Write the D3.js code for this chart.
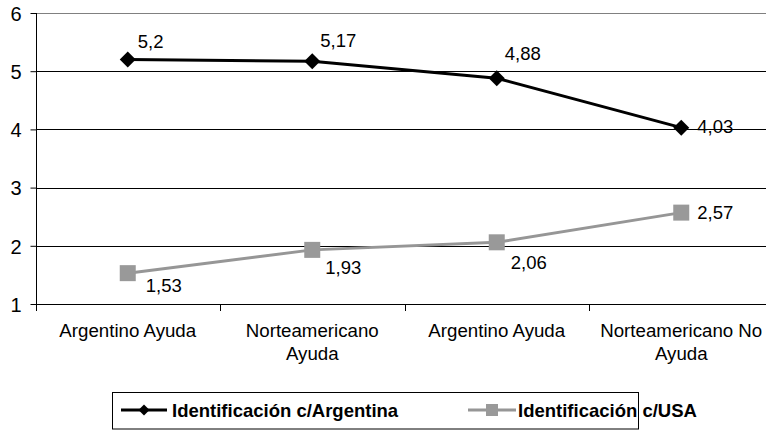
<!DOCTYPE html>
<html>
<head>
<meta charset="utf-8">
<script src="https://cdn.jsdelivr.net/npm/d3@7"></script>
<style>
  html, body { margin: 0; padding: 0; background: #fff; }
  svg { display: block; font-family: "Liberation Sans", Arial, sans-serif; }
</style>
</head>
<body>
<svg id="chart" width="766" height="430"></svg>
<script>
// Categories (x axis), two series and the y ticks
const categories = ["Argentino Ayuda", "Norteamericano Ayuda", "Argentino Ayuda ", "Norteamericano No Ayuda"];
const categoryLines = [["Argentino Ayuda"], ["Norteamericano", "Ayuda"], ["Argentino Ayuda"], ["Norteamericano No", "Ayuda"]];
const argentina = [5.2, 5.17, 4.88, 4.03];
const usa = [1.53, 1.93, 2.06, 2.57];
const yTicks = [1, 2, 3, 4, 5, 6];
const seriesNames = ["Identificación c/Argentina", "Identificación c/USA"];

// Placement of the value labels around each marker (dx, dy of the baseline)
const argLabelOffset = [[10, -12], [8, -14], [8, -18], [16, 5]];
const usaLabelOffset = [[18, 19], [13, 24], [14, 27], [16, 6]];

const svg = d3.select("#chart");
const fmt = v => String(v).replace(".", ",");

const x = d3.scaleBand().domain(categories).range([35.5, 773.5]);
const y = d3.scaleLinear().domain([1, 6]).range([304, 13]);
const cx = c => x(c) + x.bandwidth() / 2;

// Horizontal grid lines
svg.append("g").selectAll("line").data(yTicks).join("line")
  .attr("x1", 36).attr("x2", 766)
  .attr("y1", d => Math.round(y(d)) + 0.5).attr("y2", d => Math.round(y(d)) + 0.5)
  .attr("stroke", d => d === 6 ? "#808080" : "#000")
  .attr("stroke-width", 1);

// Y axis
const yAxis = svg.append("g").attr("transform", "translate(36.5,0)")
  .call(d3.axisLeft(y).tickValues(yTicks).tickSize(6).tickPadding(9).tickFormat(d3.format("d")));
yAxis.attr("font-size", null).attr("font-family", null);
yAxis.select(".domain").attr("stroke", "#000").attr("d", `M0,${y(6)}V${y(1) + 1}`);
yAxis.selectAll(".tick line").attr("stroke", "#000");
yAxis.selectAll(".tick text").attr("font-size", 20).attr("fill", "#000")
  .attr("dy", "0.36em");

// X axis with ticks at category boundaries
const xg = svg.append("g");
xg.append("line").attr("x1", 36).attr("x2", 766)
  .attr("y1", 304.5).attr("y2", 304.5).attr("stroke", "#000");
const bounds = categories.map(c => x(c)).concat([x.range()[1]]);
xg.selectAll("line.tk").data(bounds).join("line").attr("class", "tk")
  .attr("x1", d => Math.round(d) + 0.5).attr("x2", d => Math.round(d) + 0.5)
  .attr("y1", 304).attr("y2", 311).attr("stroke", "#000");

const labels = xg.selectAll("text.cat").data(categories).join("text").attr("class", "cat")
  .attr("x", d => cx(d)).attr("y", 337)
  .attr("text-anchor", "middle").attr("font-size", 18.7).attr("fill", "#000");
labels.each(function(d, i) {
  d3.select(this).selectAll("tspan").data(categoryLines[i]).join("tspan")
    .attr("x", cx(d)).attr("dy", (t, j) => j === 0 ? 0 : 23).text(t => t);
});

// Series lines
const line = d3.line().x((d, i) => cx(categories[i])).y(d => y(d));
svg.append("path").datum(usa).attr("d", line)
  .attr("fill", "none").attr("stroke", "#969696").attr("stroke-width", 3);
svg.append("path").datum(argentina).attr("d", line)
  .attr("fill", "none").attr("stroke", "#000").attr("stroke-width", 3);

// Markers
const diamond = d3.symbol().type(d3.symbolSquare).size(128);
svg.append("g").selectAll("path").data(argentina).join("path")
  .attr("d", diamond())
  .attr("transform", (d, i) => `translate(${cx(categories[i])},${y(d)}) rotate(45)`)
  .attr("fill", "#000");
svg.append("g").selectAll("rect").data(usa).join("rect")
  .attr("x", (d, i) => cx(categories[i]) - 8).attr("y", d => y(d) - 8)
  .attr("width", 16).attr("height", 16).attr("fill", "#999999");

// Value labels
svg.append("g").selectAll("text").data(argentina).join("text")
  .attr("x", (d, i) => cx(categories[i]) + argLabelOffset[i][0])
  .attr("y", (d, i) => y(d) + argLabelOffset[i][1])
  .attr("font-size", 18.5).attr("fill", "#000").text(fmt);
svg.append("g").selectAll("text").data(usa).join("text")
  .attr("x", (d, i) => cx(categories[i]) + usaLabelOffset[i][0])
  .attr("y", (d, i) => y(d) + usaLabelOffset[i][1])
  .attr("font-size", 18.5).attr("fill", "#000").text(fmt);

// Legend
const lg = svg.append("g");
lg.append("rect").attr("x", 112.5).attr("y", 392.5).attr("width", 526).attr("height", 36.5)
  .attr("fill", "#fff").attr("stroke", "#000").attr("stroke-width", 1);
const ly = 410;
// Argentina item
lg.append("line").attr("x1", 121).attr("x2", 167).attr("y1", ly).attr("y2", ly)
  .attr("stroke", "#000").attr("stroke-width", 3);
lg.append("path").attr("d", d3.symbol().type(d3.symbolSquare).size(60)())
  .attr("transform", `translate(144,${ly}) rotate(45)`).attr("fill", "#000");
lg.append("text").attr("x", 172).attr("y", ly + 6.5).attr("font-size", 18.5)
  .attr("font-weight", "bold").attr("fill", "#000").text(seriesNames[0]);
// USA item
lg.append("line").attr("x1", 468).attr("x2", 516).attr("y1", ly).attr("y2", ly)
  .attr("stroke", "#969696").attr("stroke-width", 3);
lg.append("rect").attr("x", 486).attr("y", ly - 6).attr("width", 12).attr("height", 12)
  .attr("fill", "#999999");
lg.append("text").attr("x", 518).attr("y", ly + 6.5).attr("font-size", 18.5)
  .attr("font-weight", "bold").attr("fill", "#000").text(seriesNames[1]);
</script>
</body>
</html>
